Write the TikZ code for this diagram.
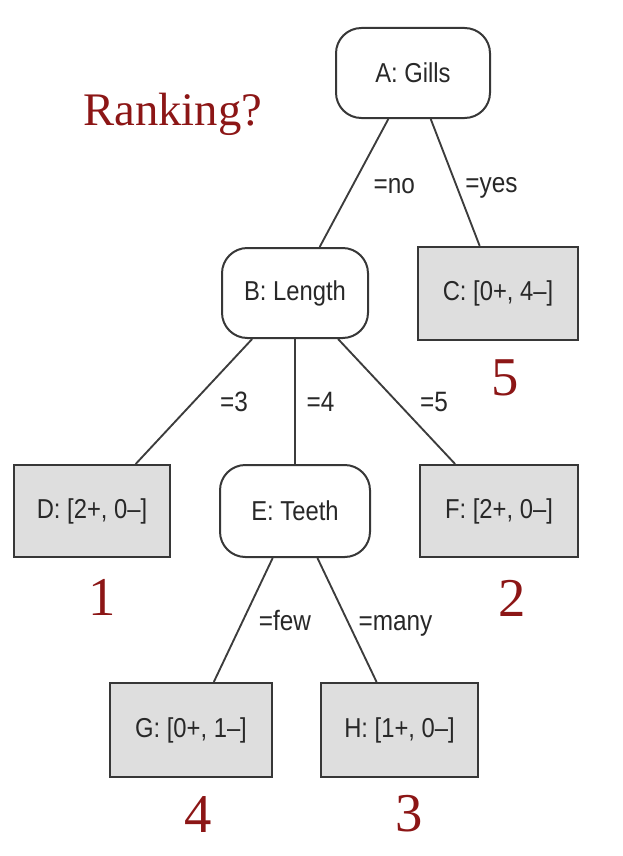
\documentclass[tikz,border=0pt]{standalone}
\usepackage{fontspec}
\setmainfont{Liberation Sans}[FakeStretch=0.87]
\newfontfamily\rankfont{Liberation Serif}
\definecolor{rankred}{RGB}{140,22,22}
\definecolor{linegray}{RGB}{55,55,55}
\definecolor{edgegray}{RGB}{60,60,60}
\definecolor{textgray}{RGB}{40,40,40}
\definecolor{leafgray}{RGB}{222,222,222}
\tikzset{
  testnode/.style={draw=linegray, line width=1.5pt, rounded corners=19pt, fill=white,
    font=\fontsize{20.5}{24}\selectfont, text=textgray, inner sep=0pt},
  leafnode/.style={draw=linegray, line width=1.5pt, fill=leafgray,
    font=\fontsize{20.5}{24}\selectfont, text=textgray, inner sep=0pt},
  branch/.style={draw=edgegray, line width=1.4pt},
  elabel/.style={font=\fontsize{21}{24}\selectfont, text=textgray, inner sep=0pt, anchor=mid west, pos=0.5, yshift=-5pt},
  ranknum/.style={font=\rankfont\fontsize{41}{45}\selectfont, text=rankred, inner sep=0pt}
}
\begin{document}
\begin{tikzpicture}[x=0.75pt,y=-0.75pt]
\useasboundingbox (0,0) rectangle (622,856);
% inner nodes
\node[testnode, minimum width=115.5pt, minimum height=67.5pt] (A) at (413,73) {A: Gills};
\node[testnode, minimum width=109.5pt, minimum height=67.5pt] (B) at (295,293) {B: Length};
\node[testnode, minimum width=112.5pt, minimum height=69pt] (E) at (295,511) {E: Teeth};
% leaves
\node[leafnode, minimum width=120pt, minimum height=70pt] (C) at (498,293.5) {C: [0+, 4--]};
\node[leafnode, minimum width=117pt, minimum height=69pt] (D) at (92,511) {D: [2+, 0--]};
\node[leafnode, minimum width=118.5pt, minimum height=69pt] (F) at (499,511) {F: [2+, 0--]};
\node[leafnode, minimum width=121.5pt, minimum height=70.5pt] (G) at (191,730) {G: [0+, 1--]};
\node[leafnode, minimum width=118pt, minimum height=70.5pt] (H) at (399.5,730) {H: [1+, 0--]};
% branches
\draw[branch] (A) -- node[elabel, xshift=14pt] (lno) {=no} (B);
\draw[branch] (A) -- node[elabel, xshift=7pt] (lyes) {=yes} (C);
\draw[branch] (B) -- node[elabel, xshift=19pt] (l3) {=3} (D);
\draw[branch] (B) -- node[elabel, xshift=8pt] (l4) {=4} (E);
\draw[branch] (B) -- node[elabel, xshift=17pt] (l5) {=5} (F);
\draw[branch] (E) -- node[elabel, xshift=11pt] (lfew) {=few} (G);
\draw[branch] (E) -- node[elabel, xshift=8pt] (lmany) {=many} (H);
% ranking
\node[font=\rankfont\fontsize{35}{40}\selectfont, text=rankred, inner sep=0pt, anchor=base west] (rank) at (83,125) {Ranking?};
\node[ranknum] (r5) at (505,378) {5};
\node[ranknum] (r1) at (102,597) {1};
\node[ranknum] (r2) at (512,598) {2};
\node[ranknum] (r4) at (198,814) {4};
\node[ranknum] (r3) at (409,814) {3};
\end{tikzpicture}
\end{document}
